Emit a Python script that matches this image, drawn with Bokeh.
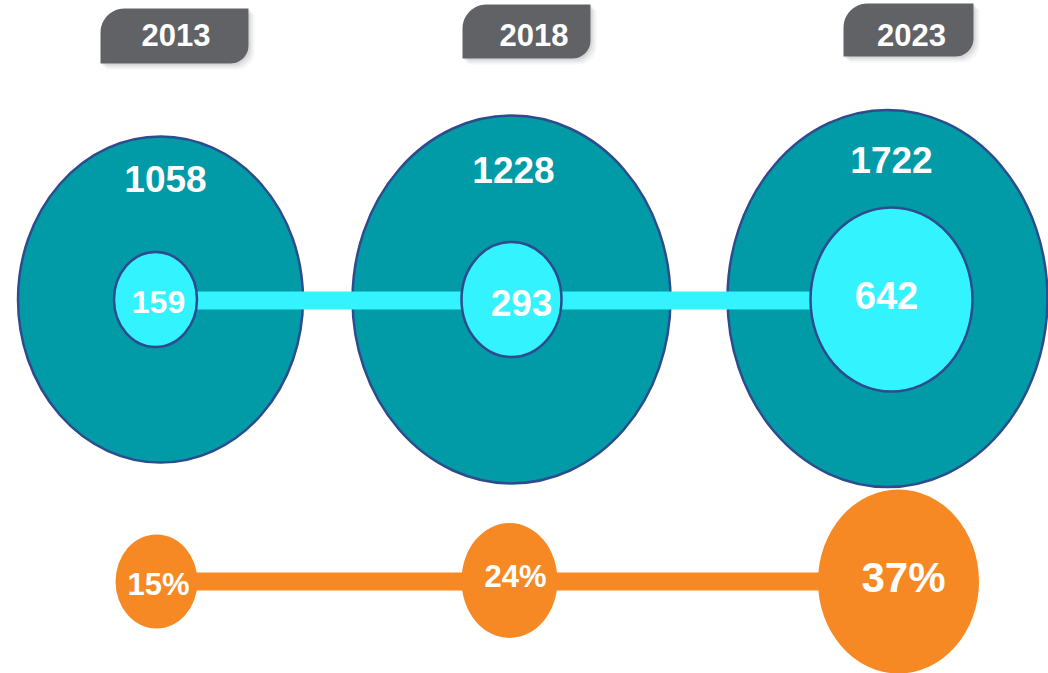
from bokeh.plotting import figure
from bokeh.models import Range1d
from bokeh.core.properties import value
from bokeh.embed import file_html
from bokeh.resources import INLINE

# ---------------- data ----------------
years = ["2013", "2018", "2023"]
totals = [1058, 1228, 1722]
inner_values = [159, 293, 642]
shares = [15, 24, 37]

# ---------------- layout (pixel space, y grows downward) ----------------
outer_cx = [160, 511, 887]
outer_cy = [299, 299, 298]
outer_w = [285, 318, 320]
outer_h = [326, 368, 377]

inner_cx = [155, 511, 891]
inner_cy = [299, 299, 299]
inner_w = [83, 100, 162]
inner_h = [95, 115, 184]

orange_cx = [156, 509, 898]
orange_cy = [581, 580, 581]
orange_w = [82, 96, 161]
orange_h = [94, 115, 184]

tab_x0 = [100, 462, 843]
tab_x1 = [248, 590, 973]
tab_y0 = [8, 4, 3]
tab_y1 = [63, 58, 56]

year_lbl = [(175.5, 35), (533.5, 35), (911, 35)]
total_lbl = [(165, 179), (513, 170), (891, 160)]
inner_lbl = [(158, 302), (521, 303), (886, 296)]
pct_lbl = [(158, 585), (515, 577), (903, 578)]

year_fs = [31, 31, 31]
total_fs = [37, 37, 37]
inner_fs = [32, 37, 38]
pct_fs = [31, 31, 42]

TEAL = "#009BA6"
EDGE = "#2E4B8D"
CYAN = "#33F3FF"
ORANGE = "#F68924"
TAB = "#616266"
FONT = "Liberation Sans"

W, H = 1048, 673
p = figure(width=W, height=H, x_range=Range1d(0, W), y_range=Range1d(H, 0),
           output_backend="svg", toolbar_location=None, min_border=0)
p.axis.visible = False
p.grid.visible = False
p.outline_line_color = None
p.background_fill_color = "white"
p.border_fill_color = "white"


def tab_path(x0, x1, y0, y1, r1=24, r2=18, n=12):
    import math
    xs, ys = [], []
    for i in range(n + 1):
        a = math.pi + (math.pi / 2) * i / n
        xs.append(x0 + r1 + r1 * math.cos(a))
        ys.append(y0 + r1 + r1 * math.sin(a))
    xs += [x1]
    ys += [y0]
    for i in range(n + 1):
        a = (math.pi / 2) * i / n
        xs.append(x1 - r2 + r2 * math.cos(a))
        ys.append(y1 - r2 + r2 * math.sin(a))
    xs += [x0]
    ys += [y1]
    return xs, ys


for k in range(len(years)):
    for off, alpha in [(6, 0.08), (4, 0.12), (2, 0.18)]:
        xs, ys = tab_path(tab_x0[k] + off, tab_x1[k] + off, tab_y0[k] + off, tab_y1[k] + off)
        p.patch(xs, ys, fill_color="#888888", fill_alpha=alpha, line_color=None)
    xs, ys = tab_path(tab_x0[k], tab_x1[k], tab_y0[k], tab_y1[k])
    p.patch(xs, ys, fill_color=TAB, line_color=None)

p.ellipse(x=outer_cx, y=outer_cy, width=outer_w, height=outer_h,
          fill_color=TEAL, line_color=EDGE, line_width=2.5)

p.quad(left=[inner_cx[0]], right=[inner_cx[-1]], top=[291], bottom=[309],
       fill_color=CYAN, line_color=None)

p.ellipse(x=inner_cx, y=inner_cy, width=inner_w, height=inner_h,
          fill_color=CYAN, line_color=EDGE, line_width=2.5)

p.quad(left=[orange_cx[0]], right=[orange_cx[-1]], top=[572], bottom=[590],
       fill_color=ORANGE, line_color=None)
p.ellipse(x=orange_cx, y=orange_cy, width=orange_w, height=orange_h,
          fill_color=ORANGE, line_color=None)


def labels(pos, texts, sizes):
    for (x, y), t, s in zip(pos, texts, sizes):
        p.text(x=[x], y=[y - 0.02 * s], text=[t], text_align="center",
               text_baseline="alphabetic", text_color="white",
               text_font=value(FONT), text_font_style="bold",
               text_font_size=f"{s}px")


labels(year_lbl, years, year_fs)
labels(total_lbl, [str(v) for v in totals], total_fs)
labels(inner_lbl, [str(v) for v in inner_values], inner_fs)
labels(pct_lbl, [f"{v}%" for v in shares], pct_fs)

open("out.html", "w").write(file_html(p, INLINE))
